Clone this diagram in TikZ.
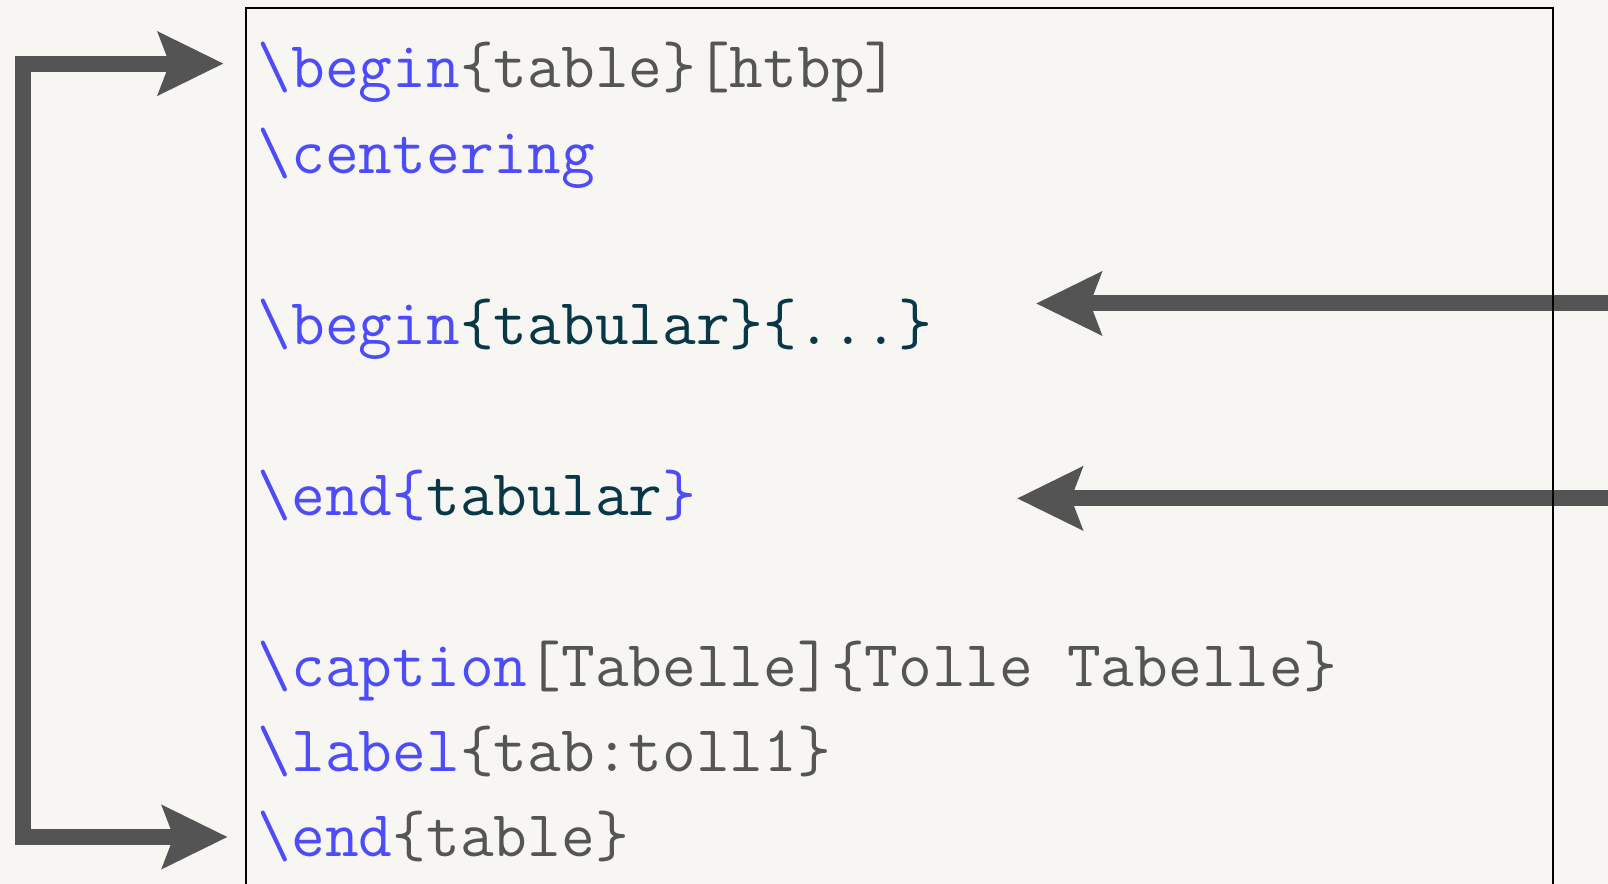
\documentclass[tikz,border=0pt]{standalone}
\usepackage{fontspec}
\usepackage{tikz}
\usetikzlibrary{matrix,arrows.meta}
\definecolor{paper}{HTML}{F7F6F2}
\definecolor{cmdblue}{RGB}{76,76,250}
\definecolor{envteal}{RGB}{8,56,72}
\definecolor{argrey}{HTML}{555555}
\definecolor{pointer}{HTML}{545454}
\newcommand{\cmd}[1]{\textcolor{cmdblue}{\textbackslash#1}}
\newcommand{\opt}[1]{\textcolor{argrey}{#1}}
\newcommand{\env}[1]{\textcolor{envteal}{#1}}

\begin{document}
\begin{tikzpicture}[x=0.25pt, y=-0.25pt,
		>={Stealth[length=16.25pt, width=15.5pt, inset=2.75pt]},
		pointy/.style={draw=pointer, line width=4pt, line join=miter}]
			\useasboundingbox (0,0) rectangle (1608,884);
			\clip (0,0) rectangle (1608,884);
			\fill[paper] (0,0) rectangle (1608,884);
			\matrix (code) [matrix of nodes, matrix anchor=code-1-1.base west, row sep=5.36pt,
				nodes={anchor=base west, inner sep=0pt, text height=12pt, text depth=4pt,
					font=\ttfamily\fontsize{16.37}{18}\selectfont}] at (257,88)
			{
				\cmd{begin}\opt{\{table\}[htbp]}                   \\
				\cmd{centering}                                     \\[21.36pt]
				\cmd{begin}\env{\{tabular\}\{...\}}                 \\[21.36pt]
				\cmd{end\{}\env{tabular}\textcolor{cmdblue}{\}}     \\[21.36pt]
				\cmd{caption}\opt{[Tabelle]\{Tolle Tabelle\}}       \\
				\cmd{label}\opt{\{tab:toll1\}}                      \\
				\cmd{end}\opt{\{table\}}                            \\
			};
			\coordinate (tabletip) at (223.6,63.6);
			\coordinate (railtop) at (22.6,63.6);
			\coordinate (railbot) at (22.6,837);
			\coordinate (endtip) at (227.7,837);
			\coordinate (tabin) at (1640,303.5);
			\coordinate (tabtip) at (1036,303.5);
			\coordinate (tabendin) at (1640,498.4);
			\coordinate (tabendtip) at (1017,498.4);
			\draw[pointy, <->] (tabletip) -- (railtop) -- (railbot) -- (endtip);
			\draw[pointy, ->] (tabin) -- (tabtip);
			\draw[pointy, ->] (tabendin) -- (tabendtip);
			\draw[line width=0.5pt] (246,8) rectangle (1553,920);
		\end{tikzpicture}
\end{document}
